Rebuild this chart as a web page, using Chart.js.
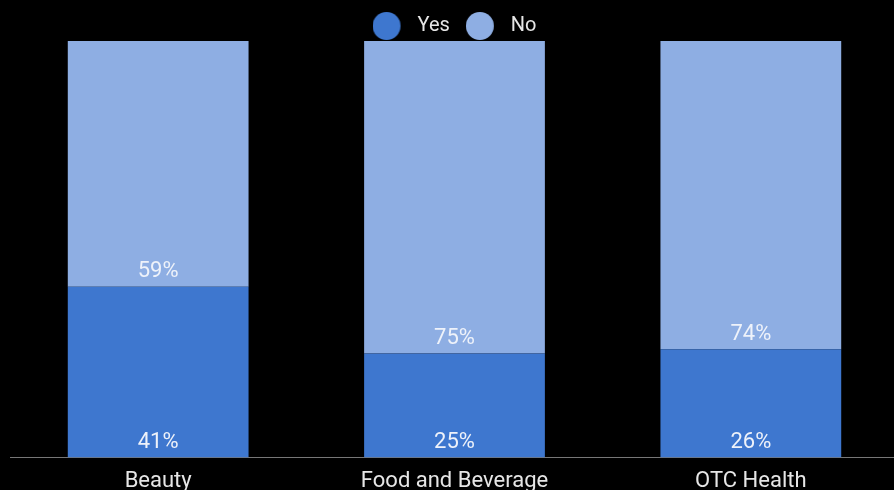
<!DOCTYPE html>
<html>
<head>
<meta charset="utf-8">
<script src="https://cdn.jsdelivr.net/npm/chart.js@4.4.1/dist/chart.umd.min.js"></script>
<style>
  html, body { margin: 0; padding: 0; background: #000; overflow: hidden; }
  #wrap { width: 900px; height: 490px; }
</style>
</head>
<body>
<div id="wrap"><canvas id="chart" width="900" height="490"></canvas></div>
<script>
const categories = ['Beauty', 'Food and Beverage', 'OTC Health'];
const yesValues = [41, 25, 26];
const noValues = [59, 75, 74];

const YES_COLOR = '#3e77cf';
const NO_COLOR = '#8eaee3';
const TEXT_COLOR = '#e6e6e6';

// legend marker: a circle sitting at the left of a slightly wider box,
// so the label text gets more room after the dot
function dotMarker(color) {
  const c = document.createElement('canvas');
  c.width = 35;
  c.height = 28;
  const g = c.getContext('2d');
  g.fillStyle = color;
  g.beginPath();
  g.arc(14, 14, 14, 0, Math.PI * 2);
  g.fill();
  return c;
}

// writes each segment's percentage just above the segment's bottom edge
const segmentLabels = {
  id: 'segmentLabels',
  afterDatasetsDraw(chart) {
    const ctx = chart.ctx;
    ctx.save();
    ctx.font = '22px Roboto';
    ctx.fillStyle = '#eef2fa';
    ctx.textAlign = 'center';
    ctx.textBaseline = 'middle';
    chart.data.datasets.forEach((ds, i) => {
      const meta = chart.getDatasetMeta(i);
      meta.data.forEach((bar, j) => {
        const p = bar.getProps(['x', 'base'], true);
        ctx.fillText(ds.data[j] + '%', p.x, p.base - 15);
      });
    });
    ctx.restore();
  }
};

// trim the space under the legend a bit
const legendTrim = {
  id: 'legendTrim',
  beforeInit(chart) {
    const fit = chart.legend.fit;
    chart.legend.fit = function () {
      fit.call(this);
      this.height -= 5;
    };
  }
};

new Chart(document.getElementById('chart'), {
  type: 'bar',
  data: {
    labels: categories,
    datasets: [
      { label: 'Yes', data: yesValues, backgroundColor: YES_COLOR },
      { label: 'No', data: noValues, backgroundColor: NO_COLOR }
    ]
  },
  options: {
    responsive: false,
    animation: false,
    layout: { padding: { left: 10, right: 1, top: 0, bottom: 0 } },
    datasets: {
      bar: { categoryPercentage: 1, barPercentage: 0.61 }
    },
    scales: {
      x: {
        stacked: true,
        grid: { display: false, drawTicks: false },
        border: { color: '#777', width: 1 },
        ticks: { color: TEXT_COLOR, font: { family: 'Roboto', size: 22 }, padding: 11 },
        afterFit(scale) { scale.height -= 16; }
      },
      y: {
        stacked: true,
        display: false,
        min: 0,
        max: 100
      }
    },
    plugins: {
      tooltip: { enabled: false },
      legend: {
        position: 'top',
        labels: {
          usePointStyle: true,
          pointStyleWidth: 35,
          padding: 16,
          color: TEXT_COLOR,
          font: { family: 'Roboto', size: 20 },
          generateLabels(chart) {
            const items = Chart.defaults.plugins.legend.labels.generateLabels(chart);
            items.forEach(it => {
              it.pointStyle = dotMarker(chart.data.datasets[it.datasetIndex].backgroundColor);
            });
            return items;
          }
        }
      }
    }
  },
  plugins: [legendTrim, segmentLabels]
});
</script>
</body>
</html>
